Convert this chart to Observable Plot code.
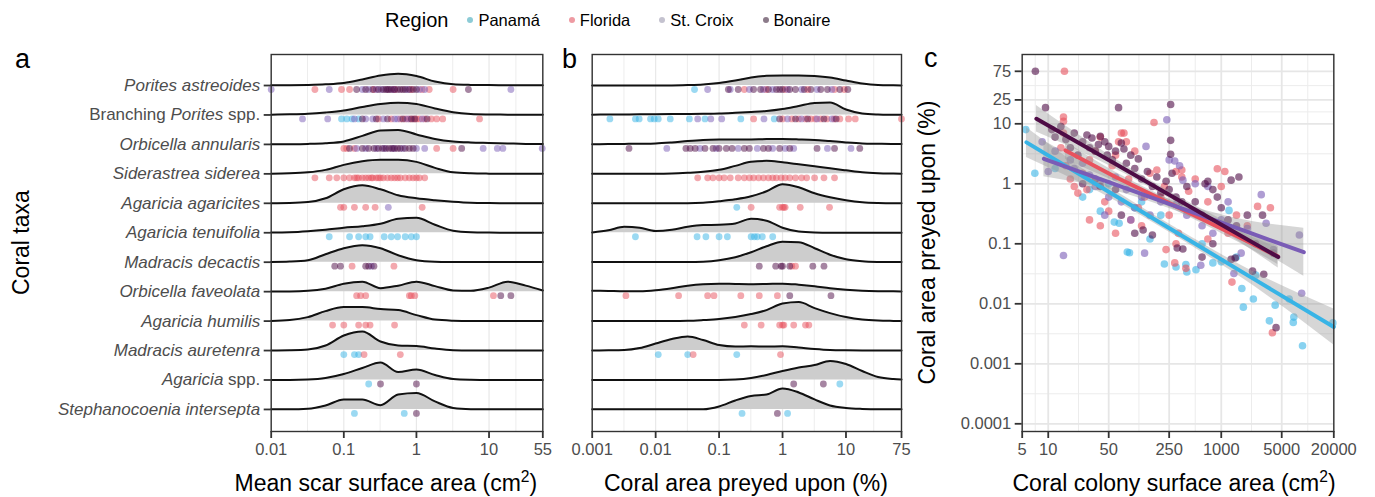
<!DOCTYPE html>
<html><head><meta charset="utf-8">
<script src="https://cdn.jsdelivr.net/npm/d3@7"></script>
<script src="https://cdn.jsdelivr.net/npm/@observablehq/plot@0.6"></script>
<style>
body{margin:0;background:#fff;}
#root{position:relative;width:1375px;height:497px;font-family:"Liberation Sans",Arial,Helvetica,sans-serif;overflow:hidden;background:#fff;}
.abs{position:absolute;white-space:nowrap;}
svg{overflow:visible}
.ttl{font-size:23px;color:#000;line-height:26px;}
.ttl sup{font-size:0.68em;line-height:0;}
.plab{font-size:27px;color:#000;line-height:30px;}
</style></head><body><div id="root"></div>
<script>
// ---------------- data ----------------
const taxa = ["Porites astreoides","Branching Porites spp.","Orbicella annularis","Siderastrea siderea","Agaricia agaricites","Agaricia tenuifolia","Madracis decactis","Orbicella faveolata","Agaricia humilis","Madracis auretenra","Agaricia spp.","Stephanocoenia intersepta"];
const regions = ["Panamá","Florida","St. Croix","Bonaire"];
const regionColors = ["#38b4e6","#e8525e","#7a5cb6","#4e0c46"];
const legendColors = ["#8ccbd6","#ee9aa2","#c4c2cf","#8c7b8a"];

const scarTicks = [0.01, 0.1, 1, 10, 55];
const preyTicks = [0.001, 0.01, 0.1, 1, 10, 75];
const colonyTicks = [5, 10, 50, 250, 1000, 5000, 20000];
const preyedTicks = [0.0001, 0.001, 0.01, 0.1, 1, 10, 25, 75];

// ridge density profiles (relative heights) sampled on these grids
const scarGrid = [0.01,0.018,0.032,0.056,0.1,0.18,0.32,0.56,1,1.8,3.2,5.6,10,18,32,55];
const scarDensity = [
 [0.2,0.3,0.6,1.2,2.5,6,10,11.7,9.5,4,1.2,0.6,0.4,0.3,0.2,0.2],
 [0.3,0.6,1.2,2.5,4.5,8,11,12.3,11,6.5,2.7,1,0.5,0.3,0.2,0.2],
 [0.1,0.2,0.5,1.2,3,8.5,14,14.5,10,5.5,3,2,1.5,1,0.5,0.3],
 [0.2,0.5,1.5,4,9,12.5,14,14,12,6,1.5,0.5,0.2,0.1,0.1,0.1],
 [0.1,0.3,1.2,5,14,18,14,8,5,3,1.5,0.5,0.2,0.1,0.1,0.1],
 [0.2,0.5,1.5,3,5,6.5,9,14,15,8,2,0.5,0.2,0.1,0.1,0.1],
 [0.2,0.6,2,8,14,17,14,7,2,0.5,0.2,0.1,0.1,0.1,0.1,0.1],
 [0.1,0.2,0.8,3,8,10,3.5,6,10,5.5,1.2,0.8,4,10,6,1.2],
 [0.2,1,4,10,14,14,12,11,6,1.5,0.4,0.1,0.1,0.1,0.1,0.1],
 [0.1,0.3,1,5,15,19,9,5,4.5,2,0.4,0.1,0.1,0.1,0.1,0.1],
 [0.1,0.1,0.5,2,6,12,17.5,8,10.5,5,1,0.3,0.1,0.1,0.1,0.1],
 [0.1,0.1,0.7,4,10,10,4.3,15,16.5,8,1.5,0.3,0.1,0.1,0.1,0.1]
];
const preyGrid = [0.001,0.0018,0.0032,0.0056,0.01,0.018,0.032,0.056,0.1,0.18,0.32,0.56,1,1.8,3.2,5.6,10,18,32,56,75];
const preyDensity = [
 [0.1,0.1,0.1,0.1,0.1,0.1,0.4,1,2.5,5,8,9.7,10,10,9.5,8,5,2,0.5,0.2,0.1],
 [0.3,0.4,0.5,0.6,0.8,0.9,1,1.2,1.5,2.2,3,4,6,9,12,12.5,5.5,1.5,0.5,0.2,0.1],
 [0.2,0.3,0.5,0.7,1,2,3.3,4.3,4.8,5,5,5.3,5.3,5,4.5,3.3,2,1,0.7,0.5,0.5],
 [0.1,0.1,0.1,0.1,0.1,0.3,1,2,4,8,12,13,11.5,9.5,7.5,5.5,3.5,1.5,0.6,0.3,0.2],
 [0.1,0.1,0.1,0.1,0.1,0.1,0.1,0.5,2,4,7,12,19,16,10,6,3,1,0.3,0.1,0.1],
 [0.3,2.5,6,5,1.7,3,6,7.7,8,9.3,14,12,5,1.2,0.3,0.1,0.1,0.1,0.1,0.1,0.1],
 [0.1,0.1,0.1,0.1,0.1,0.1,0.1,0.5,2,5,10,16,20.5,20,14,7.5,3,1,0.3,0.1,0.1],
 [1,0.7,0.4,0.5,1.5,3.5,6,7.5,8,7.7,7.5,7.7,8,7,5.5,3.5,2,1,0.5,0.3,0.2],
 [0.1,0.1,0.1,0.1,0.1,0.1,0.3,1,2,4,7,11,17.5,19,13,8,4,1.5,0.5,0.2,0.1],
 [0.1,0.2,0.5,2.5,7,11.5,14,10.5,5.5,4,4.3,4,4.3,3,1.5,0.5,0.2,0.1,0.1,0.1,0.1],
 [0.1,0.1,0.1,0.1,0.1,0.1,0.1,0.1,0.1,0.5,2,5,9,12.5,15,19,16,9,3,1,0.6],
 [0.1,0.1,0.1,0.1,0.1,0.1,0.1,0.2,3,9,13.5,15,21,17,10,4,1.5,0.5,0.1,0.1,0.1]
];

// panel a: mean scar surface area (cm2), one list per taxon
const scarPanama = [[],[0.093,0.11,0.13,0.16],[],[],[],[0.063,0.12,0.16,0.2,0.23,0.36,0.45,0.55,0.7,0.85,1.0],[],[],[],[0.1,0.14,0.16],[0.22],[0.14,0.68]];
const scarFlorida = [
 [0.04,0.093,0.12,0.26,0.5,0.85,1.2,1.5,3.2],
 [0.3,0.45,0.6,0.7,0.8,0.9,1.0,1.1,1.3,1.6,1.9,2.3,7.4],
 [0.1,0.11,0.14,1.9,3.2],
 [0.04,0.063,0.08,0.1,0.12,0.14,0.15,0.16,0.18,0.2,0.22,0.24,0.25,0.28,0.3,0.32,0.35,0.4,0.45,0.5,0.55,0.6,0.7,0.8,0.9,1.0,1.1,1.3],
 [0.09,0.1,0.14,0.2,0.27,1.2],[],[0.13,0.49],[0.15,0.17,0.2,0.8,0.85,0.95,11.5],[0.07,0.1,0.16,0.2,0.23,0.5],[0.19,0.6],[],[]];
const scarStCroix = [
 [0.01,0.063,0.18,0.22,0.28,0.33,0.48,0.75,1.1,1.3,20],
 [0.027,0.06,0.14,0.2,0.25,0.35,0.5,0.55,0.75,1.2],
 [0.15,0.2,0.28,0.36,0.48,0.65,1.0,1.3,8.3,13,15.5,54],
 [],[0.41],[],[0.24],[],[],[],[],[]];
const scarBonaire = [
 [0.15,0.2,0.25,0.3,0.35,0.38,0.4,0.42,0.45,0.5,0.55,0.6,0.65,0.7,0.8,0.9,1.0,5.2],
 [0.18,0.28,0.4,0.65,0.85,0.95,1.4],
 [0.12,0.18,0.22,0.26,0.3,0.34,0.38,0.42,0.46,0.5,0.55,0.6,0.7,0.8,0.9,4.2],
 [],[],[],[0.075,0.09,0.2,0.22,0.26],[14.5,20],[],[],[0.32,1.0],[1.0]];

// panel b: coral area preyed upon (%), one list per taxon
const preyPanama = [[0.041],[0.0019,0.0048,0.0055,0.0083,0.0095,0.011,0.017,0.034,0.06,0.22,0.74],[],[],[0.19],[0.0048,0.045,0.062,0.1,0.135,0.32,0.36,0.4,0.48,0.7],[],[],[],[0.011,0.032,0.19],[8],[0.23,1.2]];
const preyFlorida = [
 [0.25,0.55,1.1,2.5,6.6,9.4],
 [0.35,1.0,1.4,1.8,2.3,2.8,3.3,4,5,6.5,8,11,14,75],
 [],
 [0.046,0.066,0.08,0.1,0.12,0.15,0.2,0.25,0.3,0.35,0.42,0.5,0.6,0.7,0.8,0.95,1.1,1.3,1.6,2.0,2.4,3.2,4.5,6.6],
 [0.32,0.9,1.0,1.05,1.1,1.9,5.5],[],[1.4,1.6],[0.0034,0.023,0.066,0.083,0.22,0.43,0.83],[0.25,0.46,0.9,1.0,1.05,1.5,2.3,2.6],[0.039,0.93],[],[]];
const preyStCroix = [
 [0.066,0.15,0.3,0.5,0.7,1.2,2.0,3.5,6],
 [0.046,0.074,0.11,0.51,1.2,2,3.5,6],
 [0.015,0.05,0.09,0.2,0.4,0.7,1.1,1.5,5.1,12],
 [],[],[],[],[],[],[],[],[]];
const preyBonaire = [
 [0.14,0.2,0.35,0.45,0.6,0.8,0.9,1.0,1.3,1.6,2.2,2.8,4,5.1,8,10.7],
 [0.9,1.6,2.5,4.5,7],
 [0.0038,0.03,0.035,0.042,0.06,0.08,0.1,0.13,0.16,0.25,0.3,0.5,0.6,0.9,1.3,3.5,6.6,16.5],
 [],[],[],[0.43,0.78,0.95,1.0,1.3,3.0,4.5],[1.3,5.8],[],[],[1.5,4.4],[0.83]];

// panel c: [colony surface area (cm2), area preyed upon (%)]
const colonyPanama = [[5.5,8],[7,1.5],[12,1.8],[25,0.6],[40,0.35],[58,0.23],[66,0.22],[82,0.073],[87,0.071],[100,0.4],[150,0.12],[220,0.046],[300,0.041],[390,0.045],[400,0.034],[510,0.037],[800,0.048],[1230,0.36],[1730,0.018],[1800,0.0088],[2350,0.012],[3600,0.0052],[4200,0.0095],[6100,0.012],[6900,0.006],[6800,0.0049],[8700,0.002],[19500,0.0048],[1000,0.05],[200,0.3],[120,0.5],[50,1.0],[30,0.8],[600,0.1],[1500,0.06],[2500,0.03]];
const colonyFlorida = [[15.4,75],[15,13],[15,11],[15,7],[14,4],[16,2],[18,1.2],[20,0.9],[22,0.7],[25,1.5],[28,0.8],[30,2.5],[35,3.5],[40,6],[45,0.5],[50,0.35],[55,2],[60,3],[65,5],[70,7],[75,7],[80,5],[85,1.2],[90,0.25],[100,3.5],[110,0.4],[120,0.2],[130,0.6],[150,1.5],[167,10.5],[180,1.7],[200,0.6],[220,0.9],[250,0.3],[300,0.1],[320,0.15],[350,1.3],[420,0.75],[500,1.2],[300,1.6],[350,1.7],[700,0.5],[900,1.78],[1000,0.9],[1100,1.6],[1500,0.3],[2000,0.2],[2630,0.42],[3700,0.4],[230,0.08],[290,0.048],[390,0.039],[1330,0.023],[3900,0.0033],[60,0.15],[40,0.2],[30,0.25],[700,0.12],[1200,0.15]];
const colonyStCroix = [[8.5,5],[10,1.6],[12,3.5],[15,0.064],[18,2.5],[20,1.8],[25,2.2],[30,1.4],[35,0.9],[40,1.1],[50,0.6],[60,1.3],[70,0.5],[80,0.8],[100,0.4],[120,0.6],[135,4.2],[150,0.3],[200,0.5],[235,11.7],[250,2.5],[290,2.4],[300,0.45],[330,2],[360,1.15],[400,0.3],[500,1.0],[580,0.044],[600,0.2],[700,0.9],[800,0.15],[1000,0.25],[1200,0.5],[1400,0.032],[1700,0.07],[2000,0.18],[2900,0.66],[3300,0.22],[4000,0.08],[8000,0.14],[8500,0.015],[130,0.07],[45,0.3],[90,0.25]];
const colonyBonaire = [[7.1,75],[9.3,18.6],[65,18.6],[260,21],[260,5.3],[260,3.1],[11,8],[12,6],[14,9],[16,5.5],[18,4],[20,7],[22,3],[25,5],[28,6.5],[30,4],[32,5.8],[35,3.5],[38,4.5],[40,6.2],[45,5],[48,3],[50,4.2],[55,2.5],[60,3.5],[70,4.8],[75,3.8],[80,2.2],[90,3],[100,1.8],[110,2.6],[120,1.2],[140,1.6],[160,0.9],[180,1.3],[200,0.7],[230,1.1],[250,0.8],[270,1.5],[300,0.6],[350,0.5],[400,0.9],[450,0.35],[500,0.5],[600,0.3],[650,1.0],[700,1.1],[800,0.8],[900,0.6],[1000,0.4],[1300,1.15],[1600,1.3],[1200,0.25],[1500,0.2],[2000,0.3],[3000,0.3],[2300,0.035],[3100,0.031],[4300,0.004],[1300,0.055],[1450,0.058],[310,0.085],[125,0.17],[160,0.14],[360,0.082],[100,0.15],[70,0.3],[60,0.8],[35,1.2],[25,1.0],[40,0.9],[600,0.06],[800,0.1],[2500,0.1],[4000,0.07]];

// fitted log-log regressions: [colony area, lower CI, fit, upper CI]
const fitPanama = [[5.6,2.75,4.9,8.71],[40,0.708,0.891,1.12],[300,0.133,0.156,0.183],[2500,0.0188,0.0248,0.0327],[20000,0.00206,0.0041,0.00818]];
const fitFlorida = [[15.8,2.55,3.6,5.08],[60,1.08,1.3,1.56],[300,0.36,0.42,0.49],[1500,0.11,0.135,0.17],[4500,0.045,0.062,0.085]];
const fitStCroix = [[8.9,1.31,2.61,5.21],[50,0.81,1.07,1.41],[300,0.351,0.422,0.507],[1800,0.11,0.167,0.252],[9000,0.0288,0.0724,0.182]];
const fitBonaire = [[7.3,7.3,12.1,20.1],[40,2.37,2.98,3.75],[250,0.571,0.656,0.753],[1200,0.143,0.18,0.227],[4560,0.0395,0.06,0.0906]];

// ---------------- build ----------------
const FONT = '"Liberation Sans", Arial, Helvetica, sans-serif';
const TICKFILL = "#4d4d4d";
const root = document.getElementById("root");
const rowK = 1 / 29.45;
const mids = t => t.slice(1).map((v, i) => Math.sqrt(v * t[i]));

function ridgeRows(grid, dens) {
  const out = [];
  dens.forEach((r, i) => r.forEach((h, j) => out.push({row: i, x: grid[j], h})));
  return out;
}
function rowPoints(lists) {
  return lists.flatMap((vals, row) => vals.map(v => ({row, v})));
}
function place(el, left, top, width) {
  const d = document.createElement("div");
  d.className = "abs";
  d.style.left = left + "px"; d.style.top = top + "px"; d.style.width = width + "px";
  d.appendChild(el); root.appendChild(d);
}
function html(str, left, top, cls, extra) {
  const d = document.createElement("div");
  d.className = "abs " + (cls || "");
  d.style.left = left + "px"; d.style.top = top + "px";
  if (extra) Object.assign(d.style, extra);
  d.innerHTML = str; root.appendChild(d); return d;
}
// bottom axis: tick marks from the axis mark, labels as text marks
function bottomAxis(ticks) {
  return [
    Plot.axisX(ticks, {tickSize: 7, stroke: "#333", strokeWidth: 1.8, fill: "none", label: null}),
    Plot.text(ticks, {x: d => d, text: d => String(d), frameAnchor: "bottom", lineAnchor: "top", dy: 12, fontSize: 16.5, fill: TICKFILL})
  ];
}

function ridgePanel({grid, dens, ticks, domain, width, ml, mr, yAxis, pointLists}) {
  const ridge = ridgeRows(grid, dens);
  const marks = [
    Plot.ruleX(mids(ticks), {stroke: "#ededed", strokeWidth: 1}),
    Plot.ruleX(ticks, {stroke: "#e8e8e8", strokeWidth: 1.2}),
    Plot.areaY(ridge, {x: "x", y1: "row", y2: d => d.row - d.h * rowK, z: "row", fill: "#cdcdcd", curve: "monotone-x"}),
    Plot.line(ridge, {x: "x", y: d => d.row - d.h * rowK, z: "row", stroke: "#111", strokeWidth: 2, curve: "monotone-x"}),
    ...pointLists.map((lists, k) => Plot.dot(rowPoints(lists), {x: "v", y: "row", dy: 4, r: 3.4, fill: regionColors[k], fillOpacity: 0.5})),
    Plot.frame({stroke: "#333", strokeWidth: 1.4}),
    ...bottomAxis(ticks)
  ];
  if (yAxis) marks.push(Plot.axisY(d3.range(taxa.length), {tickFormat: i => taxa[i], tickSize: 7, tickPadding: 4, fontSize: 17, fill: TICKFILL, stroke: "#333", strokeWidth: 1.8, label: null}));
  return Plot.plot({
    width, height: 497, marginLeft: ml, marginRight: mr, marginTop: 54, marginBottom: 66,
    style: {fontFamily: FONT, background: "transparent", overflow: "visible"},
    x: {type: "log", domain, label: null},
    y: {type: "linear", domain: [-1.053, 11.749], reverse: true, label: null, axis: yAxis ? undefined : null},
    marks
  });
}

// panel a
const svgA = ridgePanel({grid: scarGrid, dens: scarDensity, ticks: scarTicks, domain: [0.01, 55], width: 560, ml: 270.7, mr: 17.7, yAxis: true,
  pointLists: [scarPanama, scarFlorida, scarStCroix, scarBonaire]});
svgA.querySelectorAll('g[aria-label="y-axis tick label"] text').forEach(t => {
  t.setAttribute("font-style", "italic");
  const s = t.textContent;
  if (s === "Branching Porites spp.") t.innerHTML = '<tspan font-style="normal">Branching </tspan>Porites<tspan font-style="normal"> spp.</tspan>';
  else if (s === "Agaricia spp.") t.innerHTML = 'Agaricia<tspan font-style="normal"> spp.</tspan>';
});
place(svgA, 0, 0, 560);

// panel b
const svgB = ridgePanel({grid: preyGrid, dens: preyDensity, ticks: preyTicks, domain: [0.001, 75], width: 360, ml: 31.7, mr: 19, yAxis: false,
  pointLists: [preyPanama, preyFlorida, preyStCroix, preyBonaire]});
place(svgB, 560, 0, 360);

// panel c
const colonySets = [colonyPanama, colonyFlorida, colonyStCroix, colonyBonaire];
const fitSets = [fitPanama, fitFlorida, fitStCroix, fitBonaire];
const svgC = Plot.plot({
  width: 455, height: 497, marginLeft: 101.7, marginRight: 41.7, marginTop: 54, marginBottom: 66,
  style: {fontFamily: FONT, background: "transparent", overflow: "visible"},
  x: {type: "log", domain: [5, 20000], label: null},
  y: {type: "log", domain: [7.44e-5, 142.9], label: null},
  marks: [
    Plot.ruleX(mids(colonyTicks), {stroke: "#ececec", strokeWidth: 1}),
    Plot.ruleY(mids(preyedTicks), {stroke: "#ececec", strokeWidth: 1}),
    Plot.ruleX(colonyTicks, {stroke: "#e6e6e6", strokeWidth: 1.8}),
    Plot.ruleY(preyedTicks, {stroke: "#e6e6e6", strokeWidth: 1.8}),
    ...colonySets.map((s, k) => Plot.dot(s, {x: d => d[0], y: d => d[1], r: 3.8, fill: regionColors[k], fillOpacity: 0.6})),
    ...fitSets.map(s => Plot.areaY(s, {x: d => d[0], y1: d => d[1], y2: d => d[3], fill: "#999", fillOpacity: 0.4, curve: "natural"})),
    ...fitSets.map((s, k) => Plot.line(s, {x: d => d[0], y: d => d[2], stroke: regionColors[k], strokeWidth: 4})),
    Plot.frame({stroke: "#333", strokeWidth: 1.4}),
    ...bottomAxis(colonyTicks),
    Plot.axisY(preyedTicks, {tickSize: 7, stroke: "#333", strokeWidth: 1.8, fill: "none", label: null}),
    Plot.text(preyedTicks, {y: d => d, text: d => String(d), frameAnchor: "left", textAnchor: "end", dx: -11, fontSize: 16.5, fill: TICKFILL})
  ]
});
place(svgC, 920, 0, 455);

// panel letters
html("a", 15, 44, "plab");
html("b", 562, 44, "plab");
html("c", 924, 43, "plab");

// axis titles
const tA = html("Mean scar surface area (cm<sup>2</sup>)", 0, 470, "ttl");
tA.style.left = (386 - tA.offsetWidth / 2) + "px";
const tB = html("Coral area preyed upon (%)", 0, 470, "ttl");
tB.style.left = (746 - tB.offsetWidth / 2) + "px";
const tC = html("Coral colony surface area (cm<sup>2</sup>)", 0, 470, "ttl");
tC.style.left = (1174 - tC.offsetWidth / 2) + "px";
const yA = html("Coral taxa", 0, 0, "ttl", {transformOrigin: "0 0"});
yA.style.transform = `translate(${21 - 13}px, ${242.5 + yA.offsetWidth / 2}px) rotate(-90deg)`;
const yC = html("Coral area preyed upon (%)", 0, 0, "ttl", {transformOrigin: "0 0"});
yC.style.transform = `translate(${927 - 13}px, ${242.5 + yC.offsetWidth / 2}px) rotate(-90deg)`;

// legend
const leg = document.createElement("div");
leg.className = "abs";
leg.style.cssText += "left:385px;top:8px;display:flex;align-items:center;height:24px;";
let lh = '<span style="font-size:20px;margin-right:19px">Region</span>';
regions.forEach((r, k) => {
  lh += `<span style="display:inline-block;width:6px;height:6px;border-radius:50%;background:${legendColors[k]};margin-right:5px"></span>`;
  lh += `<span style="font-size:16.5px;margin-right:${k < 3 ? 29 : 0}px">${r}</span>`;
});
leg.innerHTML = lh;
root.appendChild(leg);
</script></body></html>
